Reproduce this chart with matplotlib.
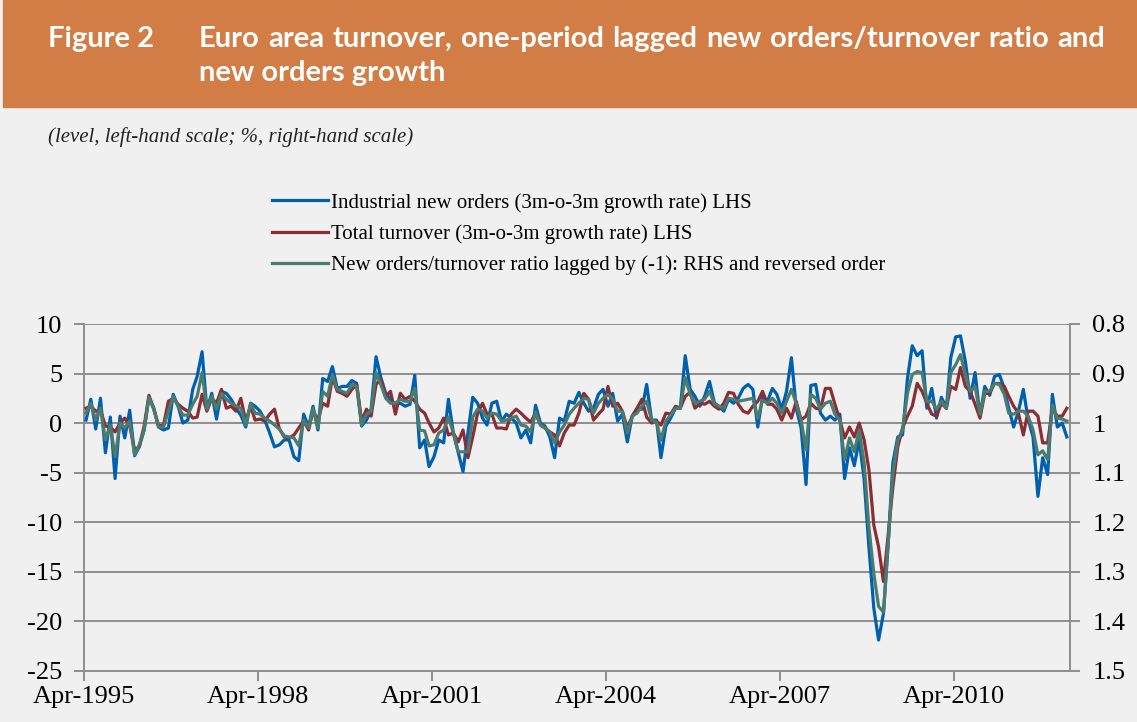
import pandas as pd
import matplotlib.pyplot as plt
from matplotlib.patches import Rectangle

plt.rcParams["axes.unicode_minus"] = False

# monthly series, Apr-1995 onwards
orders = [0.3, 2.4, -0.6, 2.5, -3.0, 0.6, -5.6, 0.7, -1.5, 1.3,
          -3.3, -2.4, -0.7, 2.6, 1.5, -0.4, -0.7, -0.5, 2.9, 1.7,
          0.0, 0.3, 3.4, 4.7, 7.2, 1.4, 3.0, 0.4, 3.2, 3.0,
          2.4, 1.5, 0.8, -0.4, 2.0, 1.7, 1.2, 0.3, -1.0, -2.4,
          -2.2, -1.7, -1.7, -3.4, -3.8, 0.9, -0.4, 1.7, -0.7, 4.5,
          4.2, 5.7, 3.5, 3.7, 3.7, 4.3, 4.0, -0.3, 0.3, 1.4,
          6.7, 4.6, 3.0, 2.4, 1.9, 2.0, 1.7, 1.9, 4.8, -2.5,
          -1.7, -4.4, -3.4, -1.7, -2.0, 2.4, -1.0, -3.0, -4.9, -1.0,
          2.6, 2.0, 0.5, -0.2, 2.0, 2.2, 0.2, 0.9, 0.5, 0.0,
          -1.5, -0.7, -2.0, 1.8, 0.0, -0.3, -1.4, -3.5, 0.5, 0.2,
          2.2, 2.0, 3.1, 2.0, 1.2, 1.5, 2.9, 3.4, 1.7, 3.0,
          0.2, 0.9, -1.9, 0.7, 1.4, 1.4, 3.9, 0.3, 0.3, -3.5,
          -0.3, 0.5, 1.5, 1.5, 6.8, 3.4, 2.7, 1.7, 2.7, 4.2,
          2.0, 1.7, 1.2, 2.4, 2.0, 2.5, 3.5, 3.9, 3.4, -0.4,
          2.7, 2.2, 3.5, 2.9, 1.4, 3.2, 6.6, 1.5, -0.5, -6.2,
          3.8, 3.9, 1.0, 0.3, 0.7, 0.3, 0.9, -5.6, -2.5, -4.3,
          -1.7, -5.7, -12.5, -18.7, -21.9, -19.2, -11.8, -4.0, -1.4, -1.2,
          4.5, 7.8, 6.8, 7.3, 1.5, 3.5, 0.5, 2.6, 1.5, 6.6,
          8.7, 8.8, 6.2, 2.5, 5.1, 0.7, 3.7, 2.8, 4.7, 4.9,
          3.5, 1.5, -0.4, 1.2, 3.4, 0.4, -1.4, -7.4, -3.5, -5.2,
          2.9, -0.4, 0.0, -1.4]

turnover = [1.5, 1.7, 1.2, 1.3, -0.3, -0.4, -0.9, 0.0, 0.5, -0.3,
            -2.7, -2.4, -0.3, 2.8, 1.4, -0.3, -0.2, 2.2, 2.5, 1.9,
            1.5, 1.2, 0.5, 0.6, 2.9, 1.2, 2.5, 2.0, 3.4, 1.5,
            1.7, 1.2, 2.5, 0.2, 1.7, 0.3, 0.4, 0.2, 0.9, 1.4,
            -0.6, -1.4, -1.5, -1.2, -0.5, 0.2, -0.7, 1.2, 0.3, 2.0,
            1.7, 4.6, 3.2, 3.0, 2.7, 3.4, 3.9, 0.2, 1.4, 0.7,
            3.9, 4.4, 2.7, 3.2, 0.9, 3.0, 2.4, 2.7, 2.2, 1.4,
            1.0, 0.0, -0.9, -0.5, 0.5, -1.2, -1.0, -1.9, -0.7, -3.5,
            -1.4, 1.0, 2.0, 0.9, 0.9, -0.5, -0.5, -0.6, 0.9, 1.4,
            1.0, 0.5, 0.1, 1.0, -0.2, -0.5, -0.9, -1.2, -2.3, -1.0,
            -0.2, -0.2, 1.0, 3.0, 2.4, 0.3, 0.9, 1.4, 3.7, 1.7,
            2.0, 1.2, -0.5, 0.7, 1.5, 2.4, 0.6, 0.0, 0.2, -0.2,
            1.0, 0.9, 1.7, 1.5, 2.7, 3.1, 1.5, 2.0, 1.9, 2.2,
            1.7, 1.4, 2.0, 3.1, 3.0, 1.9, 1.2, 1.0, 1.7, 2.2,
            3.2, 1.9, 1.9, 1.4, 0.3, 1.5, 0.5, 2.2, 0.3, 0.7,
            2.0, 1.5, 1.4, 3.5, 3.5, 1.9, 0.3, -1.5, -0.4, -1.4,
            0.0, -1.7, -4.7, -10.3, -12.5, -16.0, -11.0, -6.5, -2.4, -0.5,
            0.7, 1.7, 4.0, 3.2, 2.0, 0.9, 0.7, 2.0, 1.5, 3.7,
            3.4, 5.6, 3.7, 3.2, 1.9, 0.5, 3.0, 3.0, 4.0, 4.0,
            3.7, 2.7, 1.7, 1.0, -1.2, 1.2, 1.2, 0.7, -2.0, -2.0,
            1.5, 0.7, 0.7, 1.5]

# new orders / turnover ratio, lagged one period (right-hand scale, reversed)
ratio = [0.980, 0.960, 0.994, 0.970, 1.034, 1.004, 1.068, 1.000, 1.010, 0.996,
         1.064, 1.044, 1.014, 0.948, 0.972, 1.008, 1.008, 0.976, 0.946, 0.966,
         0.984, 0.984, 0.962, 0.946, 0.898, 0.972, 0.946, 0.972, 0.940, 0.952,
         0.960, 0.966, 0.970, 1.004, 0.960, 0.980, 0.982, 0.990, 0.996, 1.004,
         1.012, 1.026, 1.028, 1.030, 1.046, 0.994, 1.010, 0.970, 1.010, 0.936,
         0.946, 0.902, 0.932, 0.936, 0.940, 0.922, 0.926, 1.004, 0.982, 0.976,
         0.898, 0.922, 0.950, 0.960, 0.960, 0.952, 0.956, 0.956, 0.930, 1.014,
         1.016, 1.046, 1.044, 1.020, 1.014, 0.988, 1.020, 1.058, 1.058, 1.058,
         0.988, 0.972, 0.976, 0.990, 0.980, 0.982, 0.996, 0.994, 0.990, 0.986,
         1.004, 1.006, 1.018, 0.978, 1.004, 1.010, 1.018, 1.040, 1.018, 1.004,
         0.982, 0.970, 0.960, 0.950, 0.952, 0.980, 0.960, 0.950, 0.942, 0.952,
         0.976, 0.976, 1.020, 0.986, 0.980, 0.966, 0.956, 0.994, 0.998, 1.034,
         0.996, 0.984, 0.970, 0.970, 0.908, 0.942, 0.960, 0.956, 0.952, 0.936,
         0.962, 0.966, 0.970, 0.950, 0.952, 0.956, 0.954, 0.952, 0.950, 0.990,
         0.954, 0.960, 0.950, 0.960, 0.980, 0.956, 0.932, 0.960, 0.994, 1.054,
         0.942, 0.950, 0.972, 0.960, 0.956, 0.982, 0.994, 1.074, 1.030, 1.058,
         1.014, 1.080, 1.210, 1.304, 1.370, 1.382, 1.236, 1.102, 1.034, 1.014,
         0.940, 0.902, 0.896, 0.898, 0.956, 0.956, 0.972, 0.956, 0.970, 0.898,
         0.882, 0.862, 0.902, 0.936, 0.926, 0.982, 0.936, 0.936, 0.920, 0.922,
         0.942, 0.980, 0.982, 0.976, 0.976, 0.986, 1.014, 1.064, 1.056, 1.074,
         0.964, 0.990, 0.992, 0.996]

labels = ["Industrial new orders (3m-o-3m growth rate) LHS",
          "Total turnover (3m-o-3m growth rate) LHS",
          "New orders/turnover ratio lagged by (-1): RHS and reversed order"]
tick_years = [1995, 1998, 2001, 2004, 2007, 2010]
left_ticks = [10, 5, 0, -5, -10, -15, -20, -25]
right_ticks = [0.8, 0.9, 1.0, 1.1, 1.2, 1.3, 1.4, 1.5]
right_labels = ["0.8", "0.9", "1", "1.1", "1.2", "1.3", "1.4", "1.5"]

dates = pd.date_range("1995-04-01", periods=len(orders), freq="MS") + pd.Timedelta(days=11)

W, H = 1137, 722
bg = "#F0F0F0"
grey = "#8E8E8E"
serif = "Liberation Serif"

fig = plt.figure(figsize=(W / 100, H / 100), dpi=100, facecolor=bg)

# orange title band
fig.patches.append(Rectangle((3 / W, 1 - 107 / H), 1, 107 / H,
                             transform=fig.transFigure, color="#D37D46", zorder=0))

title_kw = dict(color="white", fontsize=21, fontweight="bold", family="Lato", va="baseline")
fig.text(48 / W, 1 - 47 / H, "Figure 2", **title_kw)


def justified(line, x0, x1, y):
    # spread the words between x0 and x1 (pixels) like justified text
    words = line.split()
    texts = [fig.text(0, 1 - y / H, w, **title_kw) for w in words]
    r = fig.canvas.get_renderer()
    widths = [t.get_window_extent(r).width for t in texts]
    gap = (x1 - x0 - sum(widths)) / (len(words) - 1)
    x = x0
    for t, w in zip(texts, widths):
        t.set_x(x / W)
        x += w + gap


justified("Euro area turnover, one-period lagged new orders/turnover ratio and", 199, 1105, 47)
fig.text(199 / W, 1 - 81 / H, "new orders growth", **title_kw)

fig.text(48 / W, 1 - 142 / H, "(level, left-hand scale; %, right-hand scale)",
         family=serif, style="italic", fontsize=15, va="baseline", color="#222222")

ax = fig.add_axes([84.3 / W, 1 - 670.7 / H, (1070 - 84.3) / W, (670.7 - 324) / H])
ax.set_facecolor(bg)
ax2 = ax.twinx()

l1, = ax.plot(dates, orders, color="#0060B0", lw=2.3, zorder=3)
l2, = ax.plot(dates, turnover, color="#8B2D35", lw=2.3, zorder=4)
l3, = ax2.plot(dates, ratio, color="#4A7B6F", lw=2.3, zorder=5)

ax.set_ylim(-25, 10)
ax.set_yticks(left_ticks)
ax.set_yticklabels([str(v) for v in left_ticks])
ax2.set_ylim(1.5, 0.8)
ax2.set_yticks(right_ticks)
ax2.set_yticklabels(right_labels)

ax.set_xlim(pd.Timestamp("1995-04-01"), pd.Timestamp("2012-04-01"))
ax.set_xticks([pd.Timestamp(f"{y}-04-01") for y in tick_years])
ax.set_xticklabels([f"Apr-{y}" for y in tick_years])

ax.grid(axis="y", color=grey, lw=1.4)
ax.set_axisbelow(True)

for a in (ax, ax2):
    a.spines["top"].set_visible(False)
    for s in a.spines.values():
        s.set_color(grey)
        s.set_linewidth(1.4)
    a.tick_params(colors=grey, width=1.4, length=7, labelcolor="black",
                  labelsize=19, pad=9)
    for lab in a.get_xticklabels() + a.get_yticklabels():
        lab.set_family(serif)
ax2.spines["left"].set_visible(False)
ax2.spines["bottom"].set_visible(False)
ax.spines["right"].set_visible(False)
ax.tick_params(axis="x", pad=4)

fig.legend([l1, l2, l3], labels, loc="upper left",
           bbox_to_anchor=(272 / W, 1 - 193 / H), frameon=False, borderpad=0,
           borderaxespad=0, handlelength=2.7, handletextpad=0.15, labelspacing=0.55,
           prop={"family": serif, "size": 15})

fig.savefig("out.png", dpi=100, facecolor=bg)
